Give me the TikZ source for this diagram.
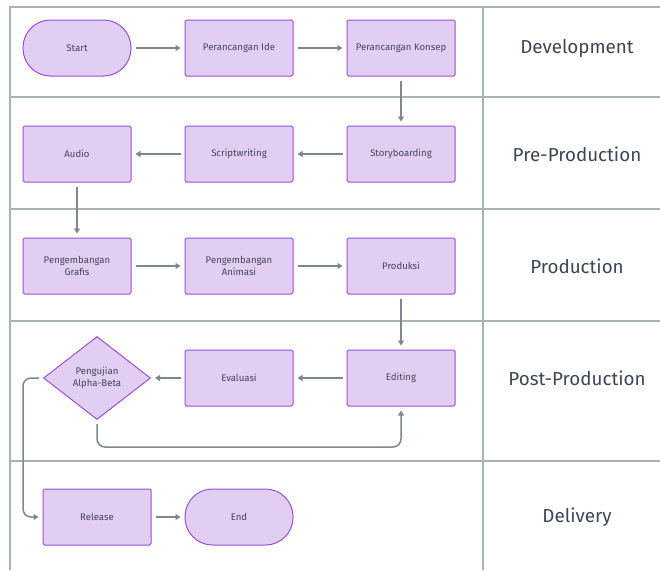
\documentclass[tikz,border=0pt]{standalone}
\usepackage{fontspec}
\setmainfont{Fira Sans}
\usetikzlibrary{arrows.meta, shapes.geometric, positioning}

\definecolor{boxfill}{HTML}{E3CEF3}
\definecolor{boxline}{HTML}{9A4FD0}
\definecolor{laneline}{HTML}{A8B1B9}
\definecolor{flowline}{HTML}{7B8894}
\definecolor{txt}{HTML}{3E4652}

\begin{document}
\begin{tikzpicture}[x=1pt,y=-1pt]
\tikzstyle{every node}+=[inner sep=0pt, text=txt, font=\fontsize{9.6}{11.5}\selectfont, align=center]
\tikzstyle{proc}=[draw=boxline, fill=boxfill, line width=1pt, rounded corners=1.5pt, minimum width=108pt, minimum height=56pt]
\tikzstyle{term}=[proc, rounded corners=27.5pt]
\tikzstyle{decide}=[draw=boxline, fill=boxfill, line width=1pt, diamond, minimum width=107pt, minimum height=83pt]
\tikzstyle{flow}=[draw=flowline, line width=1.5pt, shorten >=4pt, shorten <=4pt, -{Triangle[length=5pt,width=6pt]}, rounded corners=8pt]
\tikzstyle{lane}=[draw=laneline, line width=1.4pt]
\tikzstyle{phase}=[font=\fontsize{18.8}{22}\selectfont]
\useasboundingbox (0,0) rectangle (660,570);

% lanes
\draw [lane] (10,570) -- (10,7) -- (660,7);
\draw [lane] (483,7) -- (483,570);
\draw [lane] (10,97) -- (660,97);
\draw [lane] (10,209) -- (660,209);
\draw [lane] (10,321) -- (660,321);
\draw [lane] (10,461) -- (660,461);

\node [phase] (lDev) at (577,48) {Development};
\node [phase] (lPre) at (577,154) {Pre-Production};
\node [phase] (lPro) at (577,266) {Production};
\node [phase] (lPost) at (577,378) {Post-Production};
\node [phase] (lDel) at (577,517) {Delivery};

% steps
\node [term] (start) at (77,48) {Start};
\node [proc] (ide) at (239,48) {Perancangan Ide};
\node [proc] (konsep) at (401,48) {Perancangan Konsep};
\node [proc] (audio) at (77,154) {Audio};
\node [proc] (script) at (239,154) {Scriptwriting};
\node [proc] (story) at (401,154) {Storyboarding};
\node [proc] (grafis) at (77,266) {Pengembangan\\Grafis};
\node [proc] (animasi) at (239,266) {Pengembangan\\Animasi};
\node [proc] (produksi) at (401,266) {Produksi};
\node [decide] (uji) at (97,378) {Pengujian\\Alpha-Beta};
\node [proc] (evaluasi) at (239,378) {Evaluasi};
\node [proc] (editing) at (401,378) {Editing};
\node [proc] (release) at (97,517) {Release};
\node [term] (end) at (239,517) {End};

% flow
\draw [flow] (start) -- (ide);
\draw [flow] (ide) -- (konsep);
\draw [flow] (konsep) -- (story);
\draw [flow] (story) -- (script);
\draw [flow] (script) -- (audio);
\draw [flow] (audio) -- (grafis);
\draw [flow] (grafis) -- (animasi);
\draw [flow] (animasi) -- (produksi);
\draw [flow] (produksi) -- (editing);
\draw [flow] (editing) -- (evaluasi);
\draw [flow] (evaluasi) -- (uji);
\draw [flow] (uji.south) -- ++(0,27) -| (editing.south);
\draw [flow] (uji.west) -- ++(-20,0) |- (release.west);
\draw [flow] (release) -- (end);
\end{tikzpicture}
\end{document}
